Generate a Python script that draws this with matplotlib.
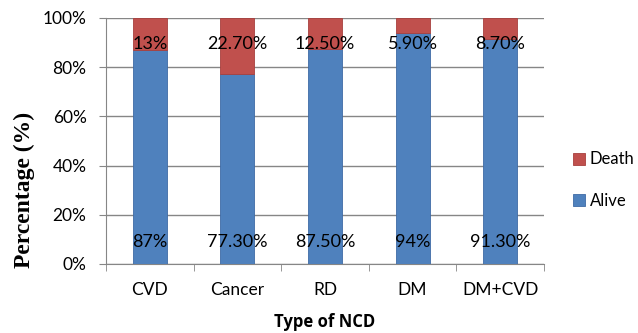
import numpy as np
import matplotlib.pyplot as plt

categories = ["CVD", "Cancer", "RD", "DM", "DM+CVD"]
alive = [87.0, 77.3, 87.5, 94.0, 91.3]
death = [13.0, 22.7, 12.5, 5.9, 8.7]
alive_labels = ["87%", "77.30%", "87.50%", "94%", "91.30%"]
death_labels = ["13%", "22.70%", "12.50%", "5.90%", "8.70%"]

blue = "#4F81BD"
red = "#C0504D"
tick_font = "Lato"

fig = plt.figure(figsize=(6.38, 3.33), dpi=100)
ax = fig.add_axes([106 / 638, 1 - 264 / 333, (544 - 106) / 638, (264 - 18) / 333])

x = np.arange(len(categories))
ax.bar(x, alive, width=0.39, color=blue, edgecolor="#3F6BA5", linewidth=0.6, label="Alive", zorder=3)
ax.bar(x, death, width=0.39, bottom=alive, color=red, edgecolor="#A8403D", linewidth=0.6, label="Death", zorder=3)

for i in range(len(categories)):
    ax.text(x[i], 89.5, death_labels[i], ha="center", va="center", fontsize=13,
            family=tick_font, zorder=4)
    ax.text(x[i], 8.8, alive_labels[i], ha="center", va="center", fontsize=13,
            family=tick_font, zorder=4)

ax.set_xlim(-0.5, len(categories) - 0.5)
ax.set_ylim(0, 100)
ax.set_yticks(np.arange(0, 101, 20))
ax.set_yticklabels([f"{v}%" for v in range(0, 101, 20)], family=tick_font, fontsize=12.5)
ax.set_xticks(x)
ax.set_xticklabels(categories, family=tick_font, fontsize=12.5)
ax.set_xticks(np.arange(-0.5, len(categories), 1), minor=True)
ax.tick_params(axis="x", which="major", length=0, pad=13)
ax.tick_params(axis="x", which="minor", length=5, color="#868686")
ax.tick_params(axis="y", length=5, color="#868686", pad=9)

ax.yaxis.grid(True, color="#868686", linewidth=1.0, zorder=0)
ax.set_axisbelow(True)
for s in ["top", "right"]:
    ax.spines[s].set_visible(False)
for s in ["left", "bottom"]:
    ax.spines[s].set_color("#868686")

ax.set_ylabel("Percentage (%)", family="Liberation Serif", fontweight="bold", fontsize=17)
ax.yaxis.set_label_coords(-0.163, 0.3)
ax.set_xlabel("Type of NCD", family="Open Sans", fontweight="bold", fontsize=12)
ax.xaxis.set_label_coords(0.5, -0.2)

handles, labels = ax.get_legend_handles_labels()
fig.legend(handles[::-1], labels[::-1], loc="center left", bbox_to_anchor=(558 / 638, 1 - 180 / 333),
           frameon=False, prop={"family": tick_font, "size": 12}, handlelength=0.7,
           handleheight=0.7, handletextpad=0.3, labelspacing=1.5)

fig.savefig("out.png", dpi=100)
